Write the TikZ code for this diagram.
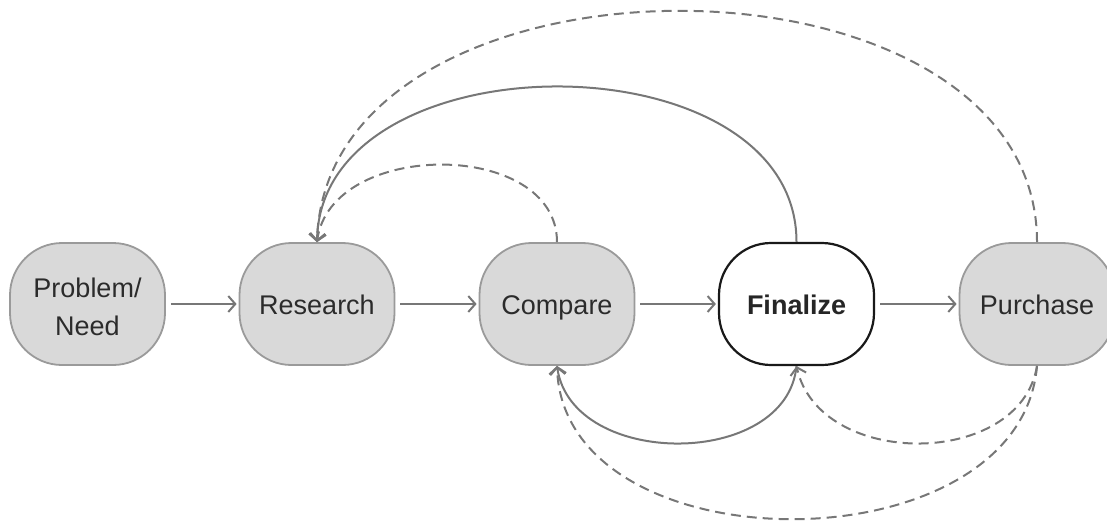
\documentclass[tikz,border=0pt]{standalone}
\usepackage{fontspec}
\setmainfont{Liberation Sans}
\usetikzlibrary{arrows.meta}
\definecolor{nodefill}{HTML}{D9D9D9}
\definecolor{nodeline}{HTML}{9A9A9A}
\definecolor{arrowc}{HTML}{777777}
\definecolor{txt}{HTML}{2B2B2B}
\newcommand\liftline{\rule[-5pt]{0pt}{31pt}}
\tikzset{
  stagebox/.style={draw=nodeline, line width=1.8pt, fill=nodefill, rounded corners=52pt,
    minimum width=155pt, minimum height=122pt, inner sep=0pt, align=center, text=txt,
    font=\fontsize{27}{38}\selectfont},
  keybox/.style={stagebox, draw=black!90, fill=white, line width=2.2pt, text=black!85,
    font=\fontsize{27}{38}\selectfont\bfseries},
  flow/.style={draw=arrowc, line width=2pt, -{Straight Barb[length=7pt,width=16pt,line width=2pt]}},
  back/.style={flow, dash pattern=on 10pt off 6pt},
}
\begin{document}
\begin{tikzpicture}[x=1pt,y=-1pt]
\path[use as bounding box, clip] (0,0) rectangle (1107,525);
\node[stagebox] (need) at (87.5,304) {\rule{0pt}{26pt}Problem/\\Need};
\node[stagebox] (research) at (317,304) {\liftline Research};
\node[stagebox] (compare) at (557,304) {\liftline Compare};
\node[keybox] (final) at (796.5,304) {\liftline Finalize};
\node[stagebox] (buy) at (1037,304) {\liftline Purchase};
% straight flow
\draw[flow, shorten <=5pt, shorten >=2pt] (need) -- (research);
\draw[flow, shorten <=5pt, shorten >=2pt] (research) -- (compare);
\draw[flow, shorten <=5pt, shorten >=2pt] (compare) -- (final);
\draw[flow, shorten <=5pt, shorten >=2pt] (final) -- (buy);
% top arcs back to research
\draw[back] (compare.north) .. controls +(0,-103) and +(14,-103) .. (research.north);
\draw[flow] (final.north) .. controls +(0,-207) and +(4,-207) .. (research.north);
\draw[back] (buy.north) .. controls +(0,-308) and +(9,-308) .. (research.north);
% bottom arcs
\draw[flow] (final.south) .. controls +(-10,103) and +(15,103) .. (compare.south);
\draw[back] (buy.south) .. controls +(-17,103) and +(23,103) .. (final.south);
\draw[back] (buy.south) .. controls +(-17,204) and +(6,204) .. (compare.south);
\end{tikzpicture}
\end{document}
